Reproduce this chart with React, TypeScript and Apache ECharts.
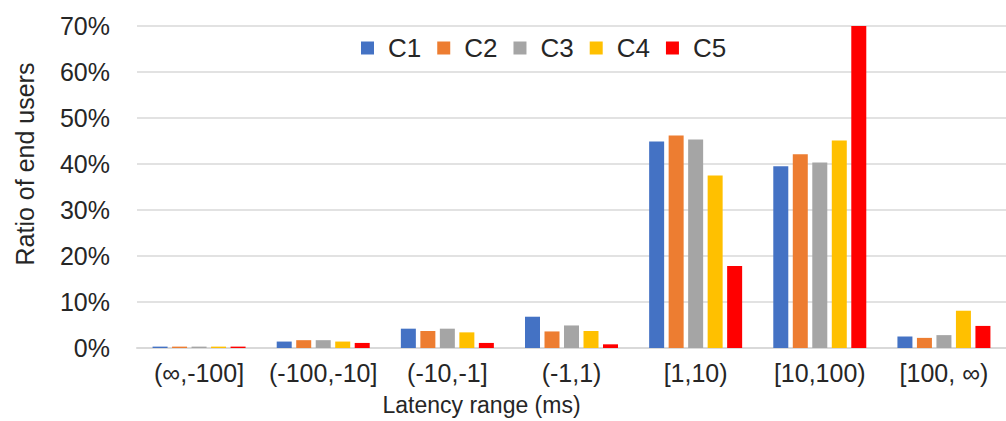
import React, { useEffect, useRef } from "react";
import * as echarts from "echarts";

const categories = ["(∞,-100]", "(-100,-10]", "(-10,-1]", "(-1,1)", "[1,10)", "[10,100)", "[100, ∞)"];
const seriesNames = ["C1", "C2", "C3", "C4", "C5"];
const c1 = [0.3, 1.4, 4.2, 6.8, 44.9, 39.5, 2.5];
const c2 = [0.3, 1.7, 3.7, 3.6, 46.2, 42.1, 2.2];
const c3 = [0.3, 1.7, 4.2, 4.9, 45.3, 40.3, 2.8];
const c4 = [0.3, 1.4, 3.4, 3.7, 37.5, 45.1, 8.1];
const c5 = [0.3, 1.1, 1.1, 0.8, 17.8, 70, 4.8];
const colors = ["#4472C4", "#ED7D31", "#A5A5A5", "#FFC000", "#FF0000"];
const yTicks = [0, 10, 20, 30, 40, 50, 60, 70];

export default function App() {
  const ref = useRef<HTMLDivElement>(null);
  useEffect(() => {
    if (!ref.current) return;
    const chart = echarts.init(ref.current, null, { renderer: "svg" });
    const data = [c1, c2, c3, c4, c5];
    chart.setOption({
      animation: false,
      backgroundColor: "#ffffff",
      textStyle: { fontFamily: "Liberation Sans, Arial, sans-serif", color: "#262626" },
      legend: {
        left: 356,
        top: 30,
        itemWidth: 13,
        itemHeight: 13,
        itemGap: 16,
        icon: "rect",
        textStyle: { fontSize: 26, color: "#262626", padding: [0, 0, 0, 9] },
        data: seriesNames,
      },
      grid: { show: false, left: 137, top: 26, width: 875, height: 323, containLabel: false },
      xAxis: {
        type: "category",
        data: categories,
        name: "Latency range (ms)",
        nameLocation: "middle",
        nameGap: 45,
        nameTextStyle: { fontSize: 23, color: "#262626", padding: [0, 180, 0, 0] },
        axisLine: { show: true, lineStyle: { color: "#D9D9D9", width: 2 } },
        axisTick: { show: false },
        splitLine: { show: false, lineStyle: { color: "rgba(0,0,0,0)", width: 0 } },
        axisLabel: { fontSize: 25, color: "#262626", margin: 12, interval: 0 },
      },
      yAxis: {
        type: "value",
        min: yTicks[0],
        max: yTicks[yTicks.length - 1],
        interval: 10,
        name: "Ratio of end users",
        nameLocation: "middle",
        nameRotate: 90,
        nameGap: 100,
        nameTextStyle: { fontSize: 25, color: "#262626", padding: [0, 0, 0, 46] },
        axisLine: { show: false },
        axisTick: { show: false },
        axisLabel: { fontSize: 25, color: "#262626", margin: 27, formatter: "{value}%" },
        splitLine: { lineStyle: { color: "#D9D9D9", width: 1.5 } },
      },
      series: seriesNames.map((n, i) => ({
        name: n,
        type: "bar",
        data: data[i],
        barWidth: 15,
        barGap: "30%",
        itemStyle: { color: colors[i] },
      })),
    });
    return () => chart.dispose();
  }, []);
  return <div ref={ref} style={{ position: "fixed", left: 0, top: 0, width: 1006, height: 421 }} />;
}
